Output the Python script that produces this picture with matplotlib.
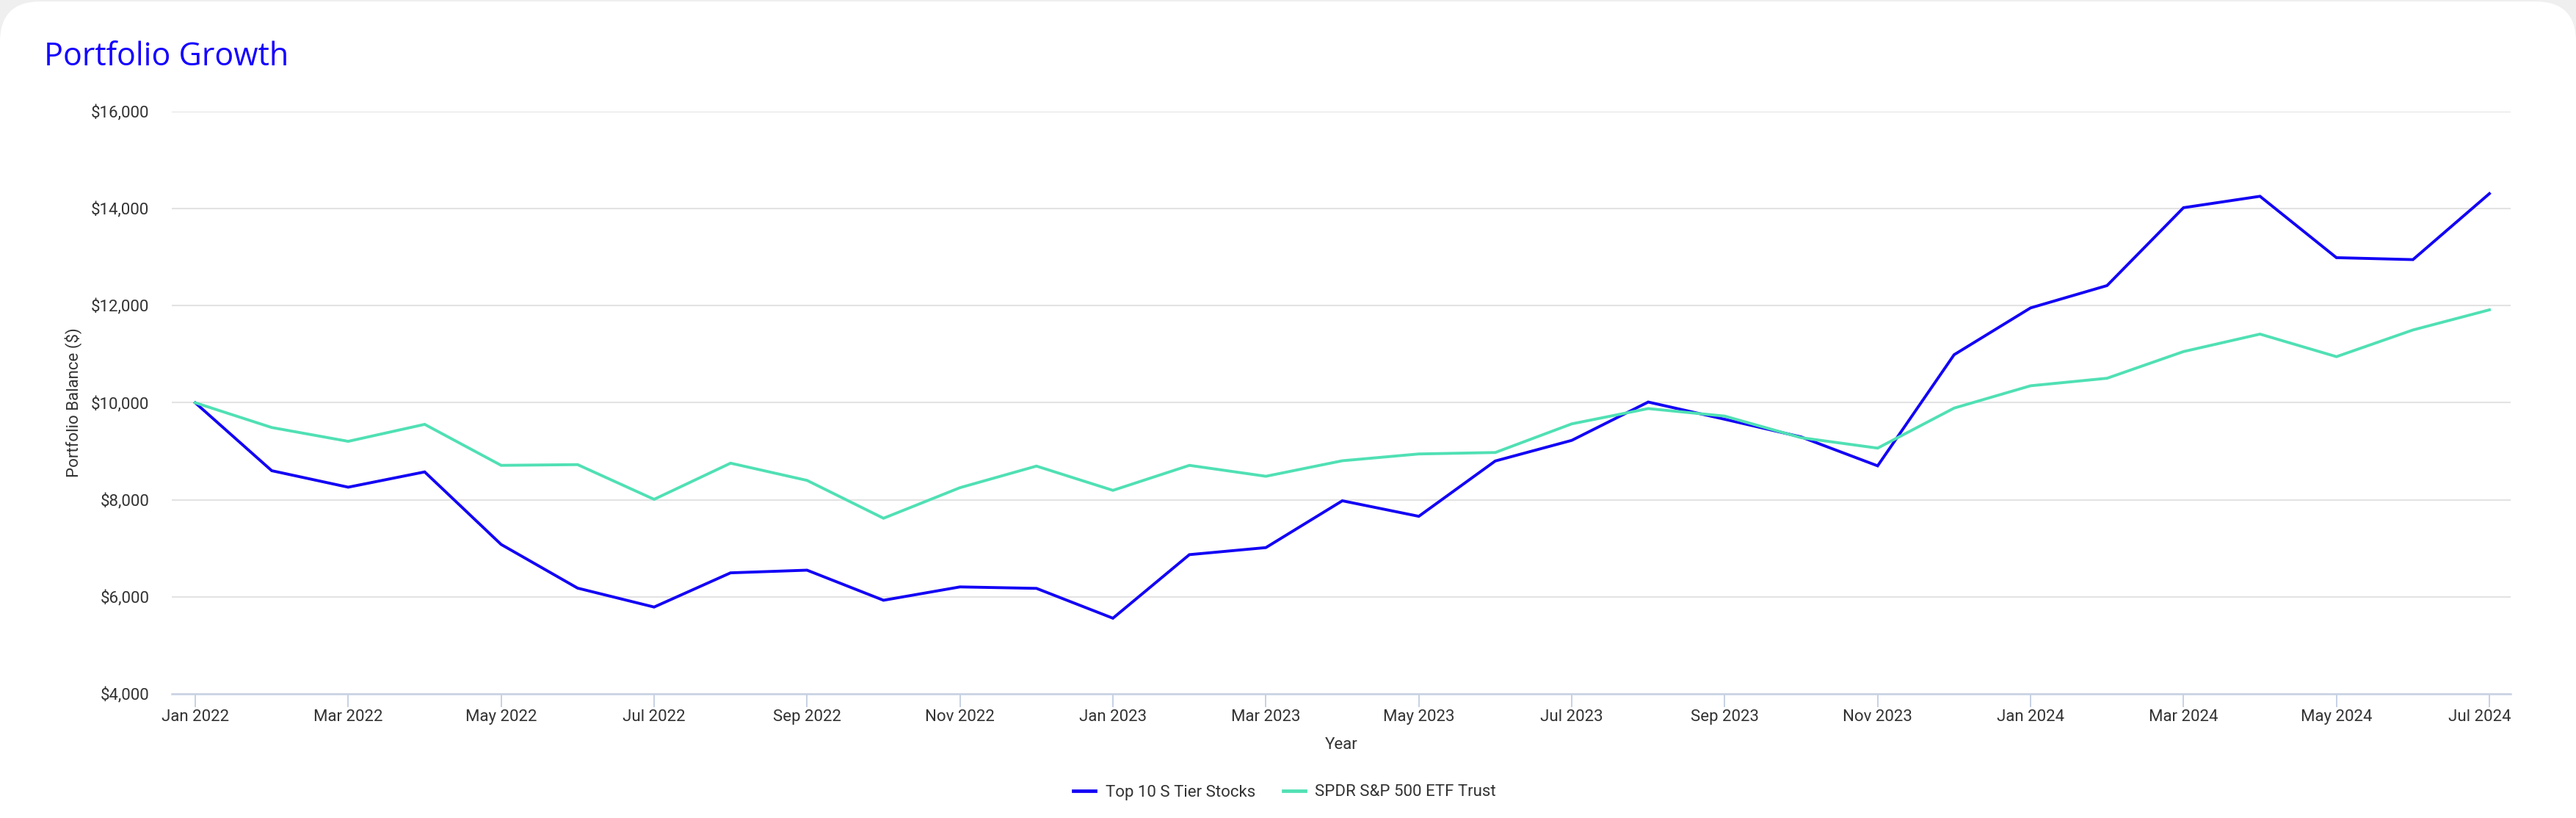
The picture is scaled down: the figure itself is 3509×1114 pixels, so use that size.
import numpy as np
import matplotlib
matplotlib.use("Agg")
import matplotlib.pyplot as plt
from matplotlib.patches import FancyBboxPatch
from matplotlib.transforms import IdentityTransform, ScaledTranslation
from matplotlib.ticker import FuncFormatter

# data (monthly, Jan 2022 .. Jul 2024)
months = ["Jan 2022", "Feb 2022", "Mar 2022", "Apr 2022", "May 2022", "Jun 2022",
          "Jul 2022", "Aug 2022", "Sep 2022", "Oct 2022", "Nov 2022", "Dec 2022",
          "Jan 2023", "Feb 2023", "Mar 2023", "Apr 2023", "May 2023", "Jun 2023",
          "Jul 2023", "Aug 2023", "Sep 2023", "Oct 2023", "Nov 2023", "Dec 2023",
          "Jan 2024", "Feb 2024", "Mar 2024", "Apr 2024", "May 2024", "Jun 2024",
          "Jul 2024"]
top10 = [10000, 8600, 8260, 8575, 7080, 6180, 5790, 6495, 6550, 5930, 6205, 6175,
         5560, 6870, 7015, 7980, 7660, 8800, 9225, 10015, 9660, 9295, 8700, 10990,
         11955, 12415, 14020, 14255, 12990, 12950, 14310]
spdr = [10000, 9490, 9205, 9555, 8710, 8725, 8010, 8755, 8400, 7620, 8250, 8695,
        8195, 8710, 8485, 8805, 8945, 8975, 9565, 9880, 9725, 9280, 9065, 9890,
        10350, 10505, 11055, 11415, 10950, 11500, 11915]
series_names = ["Top 10 S Tier Stocks", "SPDR S&P 500 ETF Trust"]

BLUE = "#1200f5"
TEAL = "#50e0b4"
TXT = "#333333"

W, H = 3509, 1114
fig = plt.figure(figsize=(W / 100, H / 100), dpi=100)
fig.patch.set_facecolor("#efefef")

# white rounded card behind everything
card = FancyBboxPatch((0, -80), W, H + 78, boxstyle="round,pad=0,rounding_size=55",
                      transform=IdentityTransform(), facecolor="white",
                      edgecolor="none", zorder=-10)
fig.patches.append(card)

ax = fig.add_axes([234 / W, 1 - 945 / H, (3420 - 234) / W, (945 - 152) / H])
ax.set_facecolor("none")
ax.set_zorder(5)

x = np.arange(len(months))
ax.plot(x, top10, color=BLUE, lw=2.8, label=series_names[0], zorder=3,
        solid_joinstyle="miter")
ax.plot(x, spdr, color=TEAL, lw=2.8, label=series_names[1], zorder=3,
        solid_joinstyle="miter")

ax.set_xlim(-0.307, 30.278)
ax.set_ylim(4000, 16000)
ax.set_yticks(np.arange(4000, 16001, 2000))
ax.yaxis.set_major_formatter(FuncFormatter(lambda v, p: "${:,.0f}".format(v)))
ax.set_xticks(x[::2])
ax.set_xticklabels(months[::2])

ax.grid(axis="y", color="#e3e3e3", lw=1.5)
ax.set_axisbelow(True)
for s in ["left", "right", "top"]:
    ax.spines[s].set_visible(False)
ax.spines["bottom"].set_color("#c6d1e4")
ax.spines["bottom"].set_linewidth(1.8)

ax.tick_params(axis="y", length=0, pad=22, labelsize=16, labelcolor=TXT,
               labelfontfamily="Roboto")
ax.tick_params(axis="x", length=13, width=1.4, color="#c6d1e4", pad=2,
               labelsize=16, labelcolor=TXT, labelfontfamily="Roboto")

# last label kept inside the axis end
last = ax.get_xticklabels()[-1]
last.set_horizontalalignment("right")
last.set_transform(last.get_transform() + ScaledTranslation(0.29, 0, fig.dpi_scale_trans))

fig.text(60 / W, 1 - 89 / H, "Portfolio Growth", fontsize=31, color="#1400ff",
         fontfamily="Open Sans", fontweight="medium", va="baseline", ha="left")
fig.text(100 / W, 1 - 548 / H, "Portfolio Balance ($)", rotation=90, fontsize=16,
         color=TXT, fontfamily="Roboto", ha="center", va="center")
fig.text(1827 / W, 1 - 1014 / H, "Year", fontsize=16, color=TXT,
         fontfamily="Roboto", ha="center", va="center")

leg = fig.legend(loc="center", bbox_to_anchor=(1750 / W, 1 - 1079 / H), ncol=2,
                 frameon=False, prop={"family": "Roboto", "size": 16},
                 handlelength=1.35, handletextpad=0.6, columnspacing=1.7)
for t in leg.get_texts():
    t.set_color(TXT)
for h in leg.get_lines():
    h.set_linewidth(3.4)

fig.savefig("out.png", dpi=100, facecolor=fig.get_facecolor())
